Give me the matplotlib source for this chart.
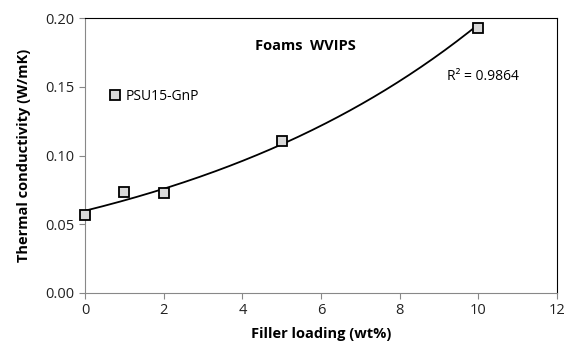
import numpy as np
import matplotlib
matplotlib.use("Agg")
import matplotlib.pyplot as plt

plt.rcParams['font.family'] = ['Open Sans', 'DejaVu Sans']

# data
loading = [0, 1, 2, 5, 10]
conductivity = [0.0565, 0.0733, 0.0730, 0.1105, 0.1930]
series_name = 'PSU15-GnP'
r2_text = 'R² = 0.9864'

# exponential trend line (as in the spreadsheet)
b, ln_a = np.polyfit(loading, np.log(conductivity), 1)
xs = np.linspace(0, 10, 200)
ys = np.exp(ln_a) * np.exp(b * xs)

fig = plt.figure(figsize=(5.68, 3.45), dpi=100)
ax = fig.add_axes([85/568, 1 - 293/345, 472/568, 275/345])

ax.plot(xs, ys, color='black', lw=1.3, zorder=2)
ax.plot(loading, conductivity, ls='none', marker='s', ms=7.5,
        mfc='#d9d9d9', mec='black', mew=1.3, label=series_name, zorder=3,
        clip_on=False)

ax.set_xlim(0, 12)
ax.set_ylim(0, 0.20)
ax.set_xticks(range(0, 13, 2))
ax.set_yticks(np.arange(0, 0.201, 0.05))
ax.yaxis.set_major_formatter(matplotlib.ticker.FormatStrFormatter('%.2f'))

for s in ['left', 'bottom']:
    ax.spines[s].set_color('#888888')
for s in ['top', 'right']:
    ax.spines[s].set_color('black')
ax.tick_params(direction='out', length=4, color='#888888', labelsize=10.5,
               labelcolor='#222222')

ax.set_xlabel('Filler loading (wt%)', fontsize=10.5, fontweight='bold', labelpad=6)
ax.set_ylabel('Thermal conductivity (W/mK)', fontsize=10.5, fontweight='bold', labelpad=10)

ax.text(0.466, 0.90, 'Foams  WVIPS', transform=ax.transAxes, ha='center',
        va='center', fontsize=10.5, fontweight='bold')
ax.text(0.767, 0.789, r2_text, transform=ax.transAxes, ha='left',
        va='center', fontsize=10)

ax.legend(loc='center left', bbox_to_anchor=(0.038, 0.716), frameon=False,
          fontsize=10, handlelength=0.8, handletextpad=0.3, borderpad=0)

fig.savefig('out.png', dpi=100)
